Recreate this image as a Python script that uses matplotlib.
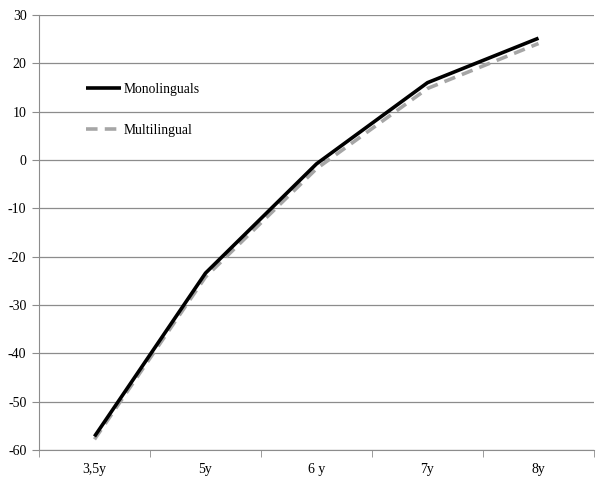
import matplotlib.pyplot as plt

edades = ["3,5y", "5y", "6 y", "7y", "8y"]
monolingues = [-57.2, -23.4, -0.8, 16.0, 25.2]
multilingues = [-57.8, -24.2, -1.8, 14.8, 24.1]

plt.rcParams["font.family"] = ["Liberation Serif", "DejaVu Serif"]
plt.rcParams["axes.unicode_minus"] = False


def main():
    fig = plt.figure(figsize=(6.05, 4.84), dpi=100)
    ax = fig.add_axes([39 / 605, 1 - 450 / 484, 555 / 605, 435 / 484])

    x = list(range(len(edades)))
    ax.plot(x, monolingues, color="black", linewidth=2.6, label="Monolinguals",
            solid_capstyle="butt", zorder=3)
    ax.plot(x, multilingues, color="#a6a6a6", linewidth=2.6, linestyle=(0, (3.2, 2.0)),
            label="Multilingual", zorder=2)

    ax.set_xlim(-0.5, len(edades) - 0.5)
    ax.set_ylim(-60, 30)
    ax.set_yticks(range(-60, 31, 10))
    ax.set_xticks(x)
    ax.set_xticklabels(edades)
    ax.set_xticks([i - 0.5 for i in range(len(edades) + 1)], minor=True)

    ax.grid(axis="y", color="#8c8c8c", linewidth=0.9)
    ax.set_axisbelow(True)
    for lado in ["top", "right"]:
        ax.spines[lado].set_visible(False)
    ax.spines["left"].set_color("#8c8c8c")
    ax.spines["bottom"].set_color("#8c8c8c")

    ax.tick_params(axis="x", which="major", length=0, pad=9, labelsize=10)
    ax.tick_params(axis="x", which="minor", length=5, color="#8c8c8c")
    ax.tick_params(axis="y", length=5, color="#8c8c8c", pad=4, labelsize=10)

    ax.legend(loc="upper left", bbox_to_anchor=(0.062, 0.872), frameon=False,
              handlelength=2.6, labelspacing=2.05, fontsize=9.8, handletextpad=0.2)

    fig.savefig("out.png", dpi=100)


if __name__ == "__main__":
    main()
